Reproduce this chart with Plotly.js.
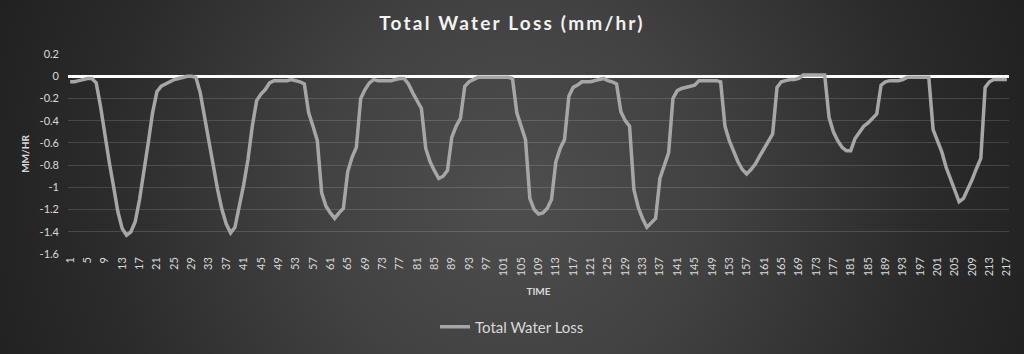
<!DOCTYPE html>
<html>
<head>
<meta charset="utf-8">
<script src="https://cdn.plot.ly/plotly-3.0.1.min.js"></script>
<style>
  html, body { margin: 0; padding: 0; }
  #chart {
    width: 1024px; height: 354px;
    background: radial-gradient(circle at 50% 55%, #4e4e4e 0%, #424242 35%, #2b2b2b 75%, #212121 100%);
  }
  #chart .gtitle { letter-spacing: 2.2px; }
</style>
</head>
<body>
<div id="chart"></div>
<script>
// Time categories (1..217)
const time = [
  1,2,3,4,5,6,7,8,9,10,11,12,13,14,15,16,17,18,19,20,
  21,22,23,24,25,26,27,28,29,30,31,32,33,34,35,36,37,38,39,40,
  41,42,43,44,45,46,47,48,49,50,51,52,53,54,55,56,57,58,59,60,
  61,62,63,64,65,66,67,68,69,70,71,72,73,74,75,76,77,78,79,80,
  81,82,83,84,85,86,87,88,89,90,91,92,93,94,95,96,97,98,99,100,
  101,102,103,104,105,106,107,108,109,110,111,112,113,114,115,116,117,118,119,120,
  121,122,123,124,125,126,127,128,129,130,131,132,133,134,135,136,137,138,139,140,
  141,142,143,144,145,146,147,148,149,150,151,152,153,154,155,156,157,158,159,160,
  161,162,163,164,165,166,167,168,169,170,171,172,173,174,175,176,177,178,179,180,
  181,182,183,184,185,186,187,188,189,190,191,192,193,194,195,196,197,198,199,200,
  201,202,203,204,205,206,207,208,209,210,211,212,213,214,215,216,217
];

// Total Water Loss (mm/hr)
const totalWaterLoss = [
  -0.05,-0.05,-0.04,-0.03,-0.02,-0.02,-0.06,-0.27,-0.53,-0.77,
  -0.99,-1.22,-1.37,-1.43,-1.40,-1.31,-1.11,-0.87,-0.60,-0.33,
  -0.14,-0.09,-0.07,-0.05,-0.03,-0.02,-0.01,0,0,-0.01,
  -0.15,-0.37,-0.60,-0.83,-1.02,-1.20,-1.33,-1.41,-1.36,-1.17,
  -0.98,-0.75,-0.45,-0.22,-0.16,-0.12,-0.06,-0.04,-0.04,-0.04,
  -0.04,-0.03,-0.04,-0.05,-0.07,-0.33,-0.45,-0.58,-1.05,-1.17,
  -1.23,-1.28,-1.23,-1.19,-0.86,-0.73,-0.64,-0.20,-0.12,-0.06,
  -0.03,-0.04,-0.04,-0.04,-0.04,-0.03,-0.02,-0.02,-0.07,-0.15,
  -0.22,-0.29,-0.65,-0.77,-0.85,-0.92,-0.90,-0.85,-0.55,-0.45,
  -0.38,-0.09,-0.05,-0.03,-0.01,-0.01,-0.01,-0.01,-0.01,-0.01,
  -0.01,-0.01,-0.02,-0.33,-0.45,-0.57,-1.10,-1.20,-1.24,-1.23,
  -1.19,-1.11,-0.77,-0.65,-0.57,-0.18,-0.10,-0.08,-0.05,-0.05,
  -0.05,-0.04,-0.03,-0.02,-0.04,-0.05,-0.07,-0.32,-0.40,-0.45,
  -1.02,-1.18,-1.28,-1.36,-1.32,-1.28,-0.92,-0.80,-0.69,-0.20,
  -0.13,-0.11,-0.10,-0.09,-0.08,-0.04,-0.04,-0.04,-0.04,-0.04,
  -0.05,-0.45,-0.58,-0.68,-0.77,-0.84,-0.88,-0.84,-0.79,-0.72,
  -0.65,-0.59,-0.52,-0.10,-0.05,-0.04,-0.03,-0.03,-0.02,0.01,
  0.01,0.01,0.01,0.01,0.01,-0.37,-0.50,-0.58,-0.64,-0.67,
  -0.67,-0.56,-0.50,-0.45,-0.42,-0.38,-0.34,-0.08,-0.05,-0.04,
  -0.04,-0.04,-0.03,-0.01,-0.01,-0.01,-0.01,-0.01,-0.01,-0.48,
  -0.58,-0.68,-0.82,-0.93,-1.02,-1.13,-1.10,-1.02,-0.93,-0.83,
  -0.74,-0.10,-0.05,-0.03,-0.03,-0.03,-0.03
];

// X tick labels (every 4th time step)
const xTickVals = [1,5,9,13,17,21,25,29,33,37,41,45,49,53,57,61,65,69,73,77,81,85,89,93,97,101,
  105,109,113,117,121,125,129,133,137,141,145,149,153,157,161,165,169,173,177,181,185,189,193,197,201,205,209,213,217];
const xTickText = xTickVals.map(String);

// Y tick labels
const yTickVals = [0.2,0,-0.2,-0.4,-0.6,-0.8,-1,-1.2,-1.4,-1.6];
const yTickText = ['0.2','0','-0.2','-0.4','-0.6','-0.8','-1','-1.2','-1.4','-1.6'];

const FONT = 'Lato, "Open Sans", sans-serif';
const TXT = '#d9d9d9';

const trace = {
  x: time,
  y: totalWaterLoss,
  type: 'scatter',
  mode: 'lines',
  name: 'Total Water Loss',
  line: { color: '#a6a6a6', width: 3.5 },
  hoverinfo: 'x+y'
};

const layout = {
  width: 1024, height: 354,
  paper_bgcolor: 'rgba(0,0,0,0)',
  plot_bgcolor: 'rgba(0,0,0,0)',
  margin: { l: 68, r: 15, t: 54, b: 100 },
  font: { family: FONT, color: TXT },
  title: {
    text: '<b>Total Water Loss (mm/hr)</b>',
    font: { family: FONT, size: 19, color: '#f2f2f2' },
    x: 0.5, xanchor: 'center', xref: 'container',
    y: 1 - 23/354, yanchor: 'middle', yref: 'container'
  },
  xaxis: {
    range: [0.5, 217.5],
    tickmode: 'array', tickvals: xTickVals, ticktext: xTickText,
    tickangle: -90,
    tickfont: { family: FONT, size: 11, color: TXT },
    showgrid: false, zeroline: false, showline: false,
    ticks: '',
    title: { text: '<b>TIME</b>', font: { family: FONT, size: 10, color: TXT }, standoff: 12 },
    fixedrange: true
  },
  yaxis: {
    range: [-1.6, 0.2],
    tickmode: 'array', tickvals: yTickVals, ticktext: yTickText,
    tickfont: { family: FONT, size: 11, color: TXT },
    ticklabelstandoff: 8,
    showgrid: true, gridcolor: 'rgba(255,255,255,0.14)', gridwidth: 1,
    zeroline: true, zerolinecolor: '#ffffff', zerolinewidth: 3,
    showline: false, ticks: '',
    title: { text: '<b>MM/HR</b>', font: { family: FONT, size: 10, color: TXT }, standoff: 8 },
    fixedrange: true
  },
  showlegend: true,
  legend: {
    orientation: 'h',
    xref: 'container', yref: 'container',
    x: 0.5, xanchor: 'center',
    y: 1 - 327/354, yanchor: 'middle',
    font: { family: FONT, size: 15, color: TXT },
    bgcolor: 'rgba(0,0,0,0)'
  }
};

Plotly.newPlot('chart', [trace], layout, { displayModeBar: false, staticPlot: true });
</script>
</body>
</html>
